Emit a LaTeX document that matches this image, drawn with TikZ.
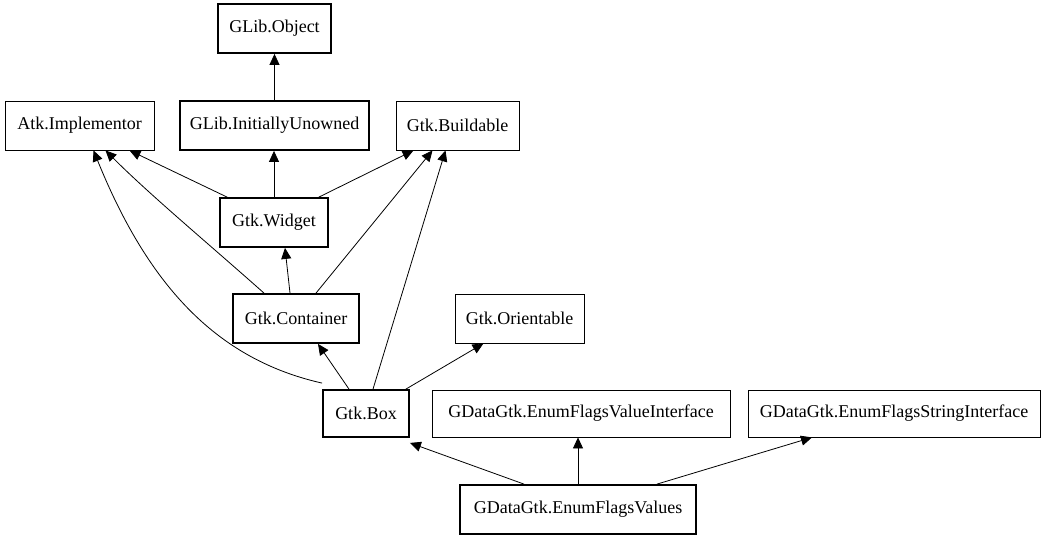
\documentclass[tikz,border=0pt]{standalone}
\usepackage{fontspec}
\setmainfont{Liberation Serif}
\usetikzlibrary{arrows.meta}
\begin{document}
\begin{tikzpicture}[x=1pt,y=-1pt,
  cls/.style={draw,line width=0.8pt,inner sep=0pt,font=\fontsize{18}{20}\selectfont,minimum height=49pt},
  main/.style={cls,line width=1.8pt},
  edge/.style={draw,line width=0.8pt,-{Triangle[length=11pt,width=10pt]}}]
\useasboundingbox (0,0) rectangle (1046,539);
\node[main,minimum width=113pt] (obj) at (274.5,28.5) {GLib.Object};
\node[cls,minimum width=149pt] (atk) at (79.5,125.5) {Atk.Implementor};
\node[main,minimum width=189pt] (iu) at (274.5,125.5) {GLib.InitiallyUnowned};
\node[cls,minimum width=123pt] (build) at (457.5,125.5) {Gtk.Buildable};
\node[main,minimum width=108pt] (widget) at (274,222.5) {Gtk.Widget};
\node[main,minimum width=126pt] (cont) at (296,318.5) {Gtk.Container};
\node[cls,minimum width=129pt] (orient) at (519.5,318.5) {Gtk.Orientable};
\node[main,minimum width=86pt,minimum height=47pt] (box) at (366,413.5) {Gtk.Box};
\node[cls,minimum width=298pt,minimum height=47pt] (vi) at (581,413.5) {GDataGtk.EnumFlagsValueInterface};
\node[cls,minimum width=292pt,minimum height=47pt] (si) at (894,413.5) {GDataGtk.EnumFlagsStringInterface};
\node[main,minimum width=236pt] (efv) at (578,509.5) {GDataGtk.EnumFlagsValues};

\draw[edge] (iu.north) -- (obj.south);
\draw[edge] ([xshift=8pt]widget.north west) -- ([xshift=50pt]atk.south);
\draw[edge] (widget.north) -- (widget.north |- iu.south);
\draw[edge] ([xshift=-10pt]widget.north east) -- ([xshift=-44pt]build.south);
\draw[edge] ([xshift=-32pt]cont.north) .. controls (210,245) and (150,195) .. ([xshift=26pt]atk.south);
\draw[edge] ([xshift=-6pt]cont.north) -- ([xshift=11pt]widget.south);
\draw[edge] ([xshift=20pt]cont.north) -- ([xshift=-25pt]build.south);
\draw[edge] ([yshift=6pt]box.north west) .. controls (220,360) and (150,290) .. ([xshift=14pt]atk.south);
\draw[edge] ([xshift=-17pt]box.north) -- ([xshift=22pt]cont.south);
\draw[edge] ([xshift=7pt]box.north) -- ([xshift=-12pt]build.south);
\draw[edge] ([xshift=-4pt]box.north east) -- ([xshift=-36pt]orient.south);
\draw[edge] ([xshift=-54pt]efv.north) -- ([yshift=-5pt]box.south east);
\draw[edge] (efv.north) -- (efv.north |- vi.south);
\draw[edge] ([xshift=79pt]efv.north) -- ([xshift=-82pt]si.south);
\end{tikzpicture}
\end{document}
